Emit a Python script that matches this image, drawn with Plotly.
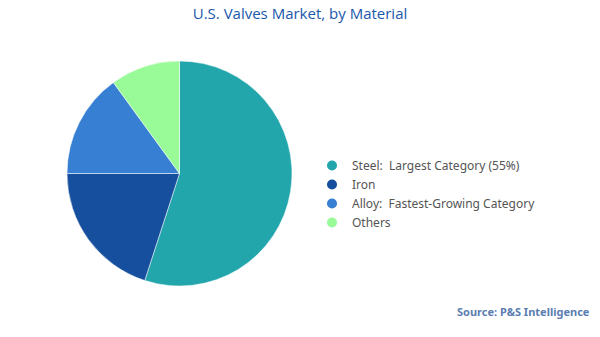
import plotly.graph_objects as go

categories = ["Steel", "Iron", "Alloy", "Others"]
legend_labels = [
    "Steel:  Largest Category (55%)",
    "Iron",
    "Alloy:  Fastest-Growing Category",
    "Others",
]
shares = [55, 20, 15, 10]
colors = ["#22A6AC", "#164F9D", "#367FD3", "#98FB98"]

fig = go.Figure()
fig.add_trace(go.Pie(
    labels=categories,
    values=shares,
    sort=False,
    direction="clockwise",
    rotation=0,
    textinfo="none",
    hoverinfo="label+percent",
    marker=dict(colors=colors, line=dict(color="white", width=0.5)),
    showlegend=False,
    domain=dict(x=[67/600, 292/600], y=[1-286/337, 1-61/337]),
))

for lbl, c in zip(legend_labels, colors):
    fig.add_trace(go.Scatter(
        x=[None], y=[None], mode="markers", name=lbl,
        marker=dict(symbol="circle", size=10, color=c),
        showlegend=True,
    ))

fig.update_layout(
    width=600, height=337,
    margin=dict(l=0, r=0, t=0, b=0),
    paper_bgcolor="white", plot_bgcolor="white",
    xaxis=dict(visible=False), yaxis=dict(visible=False),
    title=dict(text="U.S. Valves Market, by Material", x=0.5, xanchor="center",
               y=1-14/337, yanchor="middle",
               font=dict(family="Open Sans", size=15, color="#1A58AC")),
    legend=dict(x=(352-40)/600, xanchor="left", y=1-194/337, yanchor="middle",
                font=dict(family="Noto Sans", size=12, color="#555555"),
                bgcolor="rgba(0,0,0,0)"),
    annotations=[dict(text="<b>Source: P&S Intelligence</b>", xref="paper", yref="paper",
                      x=592/600, xanchor="right", y=1-311/337, yanchor="middle",
                      showarrow=False,
                      font=dict(family="Noto Sans", size=11, color="#5B7DB1"))],
)

fig.write_html("out.html")
